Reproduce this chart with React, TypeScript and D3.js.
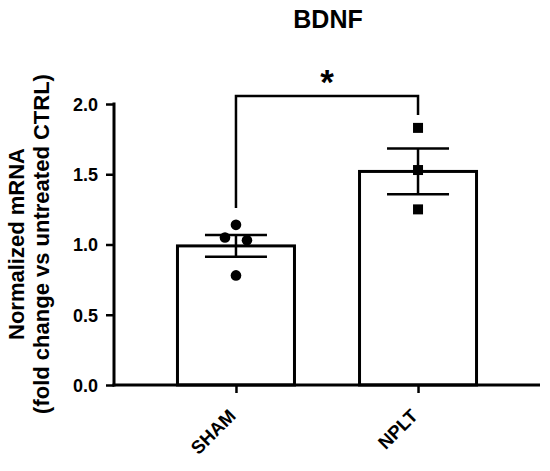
import { useEffect, useRef } from "react";
import * as d3 from "d3";

const groups = ["SHAM", "NPLT"];
const means = [0.99, 1.52];
const sems = [0.077, 0.163];
const shamPoints = [1.14, 1.05, 1.03, 0.78];
const shamOffsets = [0, -1, 1, 0];
const npltPoints = [1.83, 1.53, 1.25];
const yTicks = [0, 0.5, 1.0, 1.5, 2.0];

export default function App() {
  const svgRef = useRef<SVGSVGElement>(null);

  useEffect(() => {
    if (!svgRef.current) return;
    const svg = d3.select(svgRef.current);
    svg.selectAll("*").remove();

    const font = "Arial, 'Liberation Sans', sans-serif";
    const x = d3.scalePoint<string>().domain(groups).range([114, 540]).padding(0.67);
    const y = d3.scaleLinear().domain([0, 2]).range([385, 104]);
    const barW = 117;

    // bars
    svg.selectAll("rect.bar").data(groups).enter().append("rect")
      .attr("x", (d) => x(d)! - barW / 2)
      .attr("y", (_, i) => y(means[i]))
      .attr("width", barW)
      .attr("height", (_, i) => y(0) - y(means[i]))
      .attr("fill", "white").attr("stroke", "black").attr("stroke-width", 3);

    // error bars
    groups.forEach((g, i) => {
      const cx = x(g)!;
      const hi = y(means[i] + sems[i]), lo = y(means[i] - sems[i]);
      svg.append("line").attr("x1", cx).attr("x2", cx).attr("y1", hi).attr("y2", lo)
        .attr("stroke", "black").attr("stroke-width", 2.5);
      [hi, lo].forEach((yy) =>
        svg.append("line").attr("x1", cx - 31).attr("x2", cx + 31).attr("y1", yy).attr("y2", yy)
          .attr("stroke", "black").attr("stroke-width", 2.5));
    });

    // points
    svg.selectAll("circle.pt").data(shamPoints).enter().append("circle")
      .attr("cx", (_, i) => x("SHAM")! + shamOffsets[i] * 11)
      .attr("cy", (d) => y(d)).attr("r", 5.3).attr("fill", "black");
    svg.selectAll("rect.pt").data(npltPoints).enter().append("rect")
      .attr("x", x("NPLT")! - 5).attr("y", (d) => y(d) - 5)
      .attr("width", 10).attr("height", 10).attr("fill", "black");

    // axes
    const yAxis = svg.append("g").attr("transform", "translate(114,0)")
      .call(d3.axisLeft(y).tickValues(yTicks).tickSize(8).tickFormat(d3.format(".1f")));
    const xAxis = svg.append("g").attr("transform", "translate(0,385)")
      .call(d3.axisBottom(x).tickSize(8).tickFormat(() => ""));
    [yAxis, xAxis].forEach((a) => {
      a.select(".domain").remove();
      a.selectAll(".tick line").attr("stroke", "black").attr("stroke-width", 2.5);
    });
    yAxis.selectAll(".tick text").attr("font-family", font).attr("font-weight", "bold")
      .attr("font-size", 18).attr("fill", "black").attr("x", -16).attr("dy", "0.36em");
    svg.append("line").attr("x1", 114).attr("x2", 114).attr("y1", 102.5).attr("y2", 386.5)
      .attr("stroke", "black").attr("stroke-width", 3);
    svg.append("line").attr("x1", 112.5).attr("x2", 540).attr("y1", 385).attr("y2", 385)
      .attr("stroke", "black").attr("stroke-width", 3);

    // x labels
    groups.forEach((g) => {
      svg.append("text")
        .attr("transform", `translate(${x(g)! + 1},${417}) rotate(-45)`)
        .attr("text-anchor", "end")
        .attr("font-family", font).attr("font-weight", "bold").attr("font-size", 18.5)
        .text(g);
    });

    // y title
    const t = svg.append("text").attr("transform", "translate(0,244) rotate(-90)")
      .attr("text-anchor", "middle").attr("font-family", font).attr("font-weight", "bold")
      .attr("font-size", 22);
    t.append("tspan").attr("x", 0).attr("y", 24).text("Normalized mRNA");
    t.append("tspan").attr("x", 0).attr("y", 49).text("(fold change vs untreated CTRL)");

    // title
    svg.append("text").attr("x", 328).attr("y", 28).attr("text-anchor", "middle")
      .attr("font-family", font).attr("font-weight", "bold").attr("font-size", 25).text("BDNF");

    // significance bracket
    const bx1 = x("SHAM")!, bx2 = x("NPLT")!;
    svg.append("path")
      .attr("d", `M${bx1},208 V96 H${bx2} V115`)
      .attr("fill", "none").attr("stroke", "black").attr("stroke-width", 2.5);
    svg.append("text").attr("x", (bx1 + bx2) / 2).attr("y", 94).attr("text-anchor", "middle")
      .attr("font-family", font).attr("font-weight", "bold").attr("font-size", 35).text("*");
  }, []);

  return (
    <svg ref={svgRef} width={550} height={471}
      style={{ position: "absolute", left: 0, top: 0, background: "white" }} />
  );
}
